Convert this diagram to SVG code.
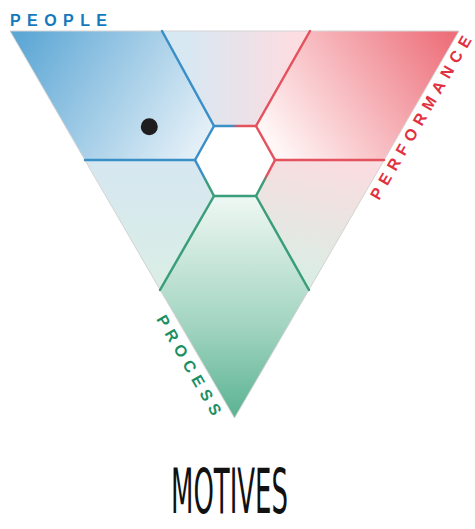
<svg xmlns="http://www.w3.org/2000/svg" width="475" height="529" viewBox="0 0 475 529">
  <defs>
    <linearGradient id="gPeople" gradientUnits="userSpaceOnUse" x1="20" y1="35" x2="205" y2="155">
      <stop offset="0" stop-color="#5da7d5"/>
      <stop offset="1" stop-color="#eaf3f9"/>
    </linearGradient>
    <linearGradient id="gTop" gradientUnits="userSpaceOnUse" x1="185" y1="0" x2="290" y2="0">
      <stop offset="0" stop-color="#d7e8f2"/>
      <stop offset="1" stop-color="#fbdde2"/>
    </linearGradient>
    <linearGradient id="gPerf" gradientUnits="userSpaceOnUse" x1="452" y1="38" x2="285" y2="158">
      <stop offset="0" stop-color="#ed6f7a"/>
      <stop offset="1" stop-color="#fff6f6"/>
    </linearGradient>
    <linearGradient id="gRight" gradientUnits="userSpaceOnUse" x1="330" y1="162" x2="300" y2="285">
      <stop offset="0" stop-color="#f9dde0"/>
      <stop offset="1" stop-color="#d8eee4"/>
    </linearGradient>
    <linearGradient id="gLeft" gradientUnits="userSpaceOnUse" x1="0" y1="162" x2="0" y2="288">
      <stop offset="0" stop-color="#d6e7f1"/>
      <stop offset="1" stop-color="#daeee5"/>
    </linearGradient>
    <linearGradient id="gProc" gradientUnits="userSpaceOnUse" x1="0" y1="198" x2="0" y2="418">
      <stop offset="0" stop-color="#eef7f3"/>
      <stop offset="0.6" stop-color="#9fd3bf"/>
      <stop offset="1" stop-color="#5ab392"/>
    </linearGradient>
    <linearGradient id="eTop" gradientUnits="userSpaceOnUse" x1="214" y1="0" x2="256" y2="0">
      <stop offset="0.4" stop-color="#3b8fc7"/>
      <stop offset="0.6" stop-color="#e4525d"/>
    </linearGradient>
    <linearGradient id="eLL" gradientUnits="userSpaceOnUse" x1="0" y1="160" x2="0" y2="196">
      <stop offset="0.4" stop-color="#3b8fc7"/>
      <stop offset="0.6" stop-color="#3a9e7b"/>
    </linearGradient>
    <linearGradient id="eLR" gradientUnits="userSpaceOnUse" x1="0" y1="160" x2="0" y2="196">
      <stop offset="0.4" stop-color="#e4525d"/>
      <stop offset="0.6" stop-color="#3a9e7b"/>
    </linearGradient>
  </defs>
  <style>
    .lbl { font-family: "Liberation Sans", Arial, sans-serif; font-weight: bold; font-size: 16px; }
    .line { fill: none; stroke-width: 2.5; stroke-linecap: round; stroke-linejoin: round; }
    .blue { stroke: #3b8fc7; }
    .red { stroke: #e4525d; }
    .green { stroke: #3a9e7b; }
  </style>
  <rect width="475" height="529" fill="#ffffff"/>

  <g id="region-people">
    <polygon points="10,31 162,31 214,126 195,160 85,160" fill="url(#gPeople)"/>
  </g>
  <g id="region-top">
    <polygon points="162,31 310,31 256,126 214,126" fill="url(#gTop)"/>
  </g>
  <g id="region-performance">
    <polygon points="310,31 459,31 384,160 275,160 256,126" fill="url(#gPerf)"/>
  </g>
  <g id="region-right">
    <polygon points="275,160 384,160 309,290 256,196" fill="url(#gRight)"/>
  </g>
  <g id="region-process">
    <polygon points="214,196 256,196 309,290 234.5,418 160,290" fill="url(#gProc)"/>
  </g>
  <g id="region-left">
    <polygon points="85,160 195,160 214,196 160,290" fill="url(#gLeft)"/>
  </g>
  <g id="hexagon">
    <polygon points="214,126 256,126 275,160 256,196 214,196 195,160" fill="#ffffff"/>
  </g>
  <g id="outline">
    <polygon points="10,31 459,31 234.5,418" fill="none" stroke="#d3d3d3" stroke-width="1"/>
  </g>

  <g id="connectors">
    <line class="line blue" x1="162" y1="31" x2="214" y2="126"/>
    <line class="line blue" x1="214" y1="126" x2="195" y2="160"/>
    <line class="line blue" x1="195" y1="160" x2="85" y2="160"/>
    <line class="line" stroke="url(#eTop)" x1="214" y1="126" x2="256" y2="126"/>
    <line class="line red" x1="310" y1="31" x2="256" y2="126"/>
    <line class="line red" x1="256" y1="126" x2="275" y2="160"/>
    <line class="line red" x1="275" y1="160" x2="384" y2="160"/>
    <line class="line" stroke="url(#eLR)" x1="275" y1="160" x2="256" y2="196"/>
    <line class="line" stroke="url(#eLL)" x1="195" y1="160" x2="214" y2="196"/>
    <line class="line green" x1="214" y1="196" x2="256" y2="196"/>
    <line class="line green" x1="214" y1="196" x2="160" y2="290"/>
    <line class="line green" x1="256" y1="196" x2="309" y2="290"/>
  </g>

  <g id="dot">
    <circle cx="149.3" cy="126.7" r="8.5" fill="#1f1d1e"/>
  </g>

  <g id="label-people">
    <text class="lbl" x="10" y="25.5" fill="#1479bd" textLength="97" lengthAdjust="spacing">PEOPLE</text>
  </g>
  <g id="label-performance">
    <text class="lbl" transform="translate(379,201) rotate(-60)" fill="#e2313e" textLength="186" lengthAdjust="spacing">PERFORMANCE</text>
  </g>
  <g id="label-process">
    <text class="lbl" transform="translate(156,319) rotate(60)" fill="#1a8f64" textLength="113" lengthAdjust="spacing">PROCESS</text>
  </g>
  <g id="title">
    <text x="171" y="513" font-family="'Liberation Sans Narrow', 'DejaVu Sans Condensed', 'Liberation Sans', sans-serif" font-size="63" fill="#111111" textLength="117" lengthAdjust="spacingAndGlyphs">MOTIVES</text>
  </g>
</svg>
